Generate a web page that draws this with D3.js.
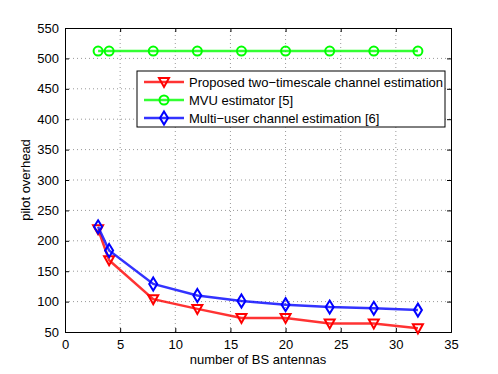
<!DOCTYPE html>
<html>
<head>
<meta charset="utf-8">
<script src="https://cdn.jsdelivr.net/npm/d3@7"></script>
<style>
  body { margin: 0; background: #fff; }
  svg text { font-family: "Liberation Sans", Arial, sans-serif; }
</style>
</head>
<body>
<div id="chart"></div>
<script>
// chart values
const antennas = [3, 4, 8, 12, 16, 20, 24, 28, 32];
const proposed = [219, 168, 104, 88, 73, 73, 64, 64, 56];
const mvu = [512, 512, 512, 512, 512, 512, 512, 512, 512];
const multiUser = [223, 184, 129, 110, 101, 95, 91, 89, 86];
const xTicks = [0, 5, 10, 15, 20, 25, 30, 35];
const yTicks = [50, 100, 150, 200, 250, 300, 350, 400, 450, 500, 550];
const seriesNames = [
  'Proposed two\u2212timescale channel estimation',
  'MVU estimator [5]',
  'Multi\u2212user channel estimation [6]'
];

const width = 498, height = 374;
const margin = { left: 65, right: 47, top: 28, bottom: 42 };

const svg = d3.select('#chart')
  .append('svg')
  .attr('width', width)
  .attr('height', height);

const x = d3.scaleLinear().domain([0, 35]).range([margin.left, width - margin.right]);
const y = d3.scaleLinear().domain([50, 550]).range([height - margin.bottom, margin.top]);

// grid
svg.append('g').selectAll('line.gx')
  .data(xTicks.slice(1, -1))
  .enter().append('line')
  .attr('x1', d => x(d)).attr('x2', d => x(d))
  .attr('y1', y(50)).attr('y2', y(550))
  .style('stroke', '#999').style('stroke-dasharray', '1,3').style('stroke-width', 1);
svg.append('g').selectAll('line.gy')
  .data(yTicks.slice(1, -1))
  .enter().append('line')
  .attr('x1', x(0)).attr('x2', x(35))
  .attr('y1', d => y(d)).attr('y2', d => y(d))
  .style('stroke', '#999').style('stroke-dasharray', '1,3').style('stroke-width', 1);

// axes (ticks pointing inward)
const xAxis = svg.append('g')
  .attr('transform', `translate(0,${y(50)})`)
  .call(d3.axisBottom(x).tickValues(xTicks).tickSize(-4).tickPadding(8));
const xAxisTop = svg.append('g')
  .attr('transform', `translate(0,${y(550)})`)
  .call(d3.axisTop(x).tickValues(xTicks).tickSize(-4).tickFormat(''));
const yAxis = svg.append('g')
  .attr('transform', `translate(${x(0)},0)`)
  .call(d3.axisLeft(y).tickValues(yTicks).tickSize(-4).tickPadding(6));
const yAxisRight = svg.append('g')
  .attr('transform', `translate(${x(35)},0)`)
  .call(d3.axisRight(y).tickValues(yTicks).tickSize(-4).tickFormat(''));

[xAxis, xAxisTop, yAxis, yAxisRight].forEach(a => {
  a.select('.domain').style('stroke', '#000').style('stroke-width', 1);
  a.selectAll('.tick line').style('stroke', '#000');
  a.selectAll('text').style('font-size', '13px').style('fill', '#000')
    .style('font-family', '"Liberation Sans", Arial, sans-serif');
});

// axis labels
svg.append('text')
  .attr('x', (x(0) + x(35)) / 2).attr('y', 364)
  .attr('text-anchor', 'middle')
  .style('font-size', '13px')
  .text('number of BS antennas');
svg.append('text')
  .attr('transform', `translate(30,${(y(50) + y(550)) / 2}) rotate(-90)`)
  .attr('text-anchor', 'middle')
  .style('font-size', '13px')
  .text('pilot overhead');

// series
const series = [
  { name: seriesNames[0], values: proposed, color: '#ff0000', symbol: 'tri' },
  { name: seriesNames[1], values: mvu, color: '#00ff00', symbol: 'circle' },
  { name: seriesNames[2], values: multiUser, color: '#0000ff', symbol: 'diamond' }
];

function drawMarker(g, kind, color) {
  if (kind === 'tri') {
    g.append('path').attr('d', 'M-5,-4L5,-4L0,5Z');
  } else if (kind === 'circle') {
    g.append('circle').attr('r', 4.5);
  } else {
    g.append('path').attr('d', 'M0,-6.5L4,0L0,6.5L-4,0Z');
  }
  g.selectAll('path,circle')
    .style('fill', 'none').style('stroke', color).style('stroke-width', 2);
}

const line = d3.line().x((d, i) => x(antennas[i])).y(d => y(d));

series.forEach(s => {
  svg.append('path')
    .datum(s.values)
    .attr('d', line)
    .style('fill', 'none')
    .style('stroke', s.color)
    .style('stroke-opacity', 0.8)
    .style('stroke-width', 2.5);
  svg.append('g').selectAll('g')
    .data(s.values)
    .enter().append('g')
    .attr('transform', (d, i) => `translate(${x(antennas[i])},${y(d)})`)
    .each(function () { drawMarker(d3.select(this), s.symbol, s.color); });
});

// legend
const lg = svg.append('g').attr('transform', 'translate(137,71)');
lg.append('rect')
  .attr('width', 308).attr('height', 56)
  .style('fill', '#fff').style('stroke', '#000').style('stroke-width', 1);
series.forEach((s, i) => {
  const row = lg.append('g').attr('transform', `translate(0,${11 + i * 18})`);
  row.append('line')
    .attr('x1', 7).attr('x2', 47)
    .style('stroke', s.color).style('stroke-opacity', 0.8).style('stroke-width', 2.5);
  drawMarker(row.append('g').attr('transform', 'translate(27,0)'), s.symbol, s.color);
  row.append('text')
    .attr('x', 52).attr('y', 4.5)
    .style('font-size', '13px')
    .text(s.name);
});
</script>
</body>
</html>
